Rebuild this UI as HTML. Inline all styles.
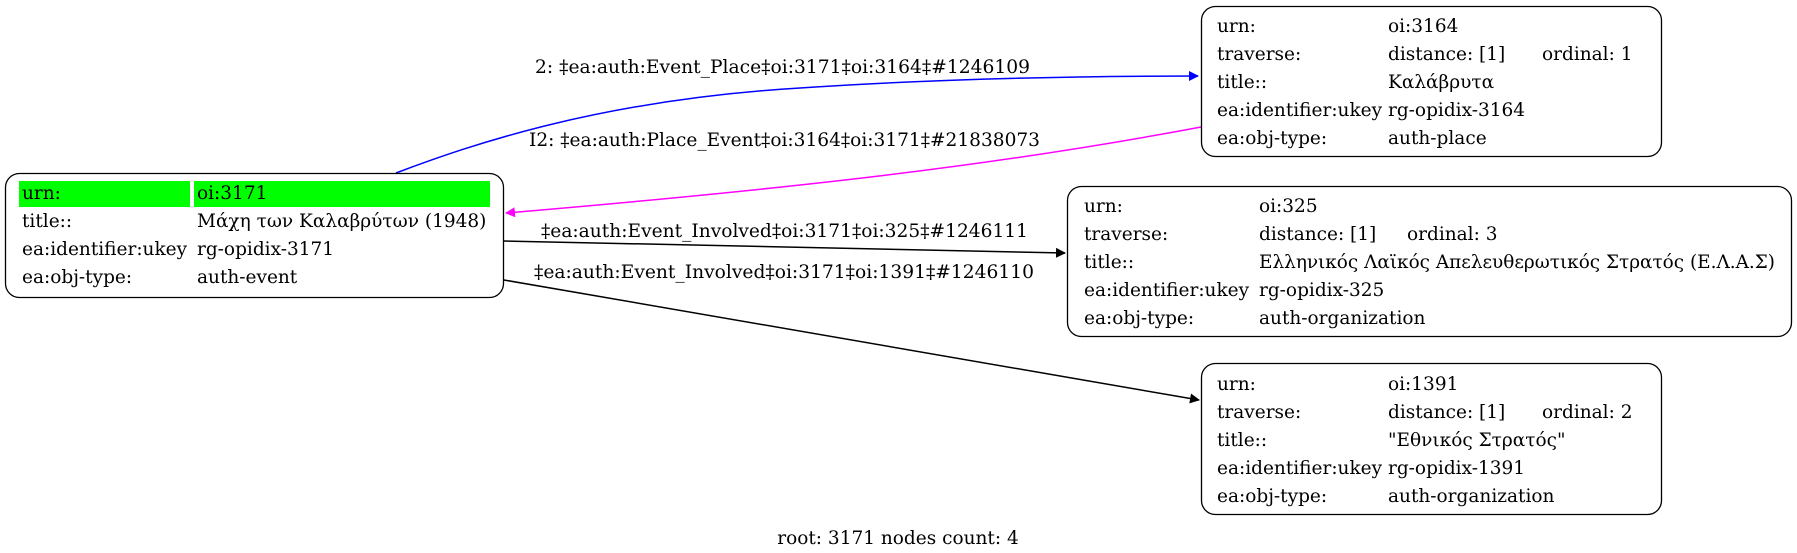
<!DOCTYPE html>
<html><head><meta charset="utf-8"><style>
html,body{margin:0;padding:0;background:#fff;}
svg{display:block;}
text{font-family:"DejaVu Serif","Liberation Serif",serif;font-size:18.5px;fill:#000;}
</style></head><body>
<svg width="1797" height="553" viewBox="0 0 1797 553" xmlns="http://www.w3.org/2000/svg">
<defs>
<marker id="ab" markerWidth="10" markerHeight="10" refX="9" refY="5" orient="auto" markerUnits="userSpaceOnUse"><path d="M0,0 L10,5 L0,10 z" fill="#0000ff"/></marker>
<marker id="am" markerWidth="10" markerHeight="10" refX="9" refY="5" orient="auto" markerUnits="userSpaceOnUse"><path d="M0,0 L10,5 L0,10 z" fill="#ff00ff"/></marker>
<marker id="ak" markerWidth="10" markerHeight="10" refX="9" refY="5" orient="auto" markerUnits="userSpaceOnUse"><path d="M0,0 L10,5 L0,10 z" fill="#000"/></marker>
</defs>

<!-- edges -->
<path d="M396,173 C470,145 600,100 800,88 C950,78 1100,76 1198,76" fill="none" stroke="#0000ff" stroke-width="1.5" marker-end="url(#ab)"/>
<path d="M1201,127 C1000,165 800,188 506,213" fill="none" stroke="#ff00ff" stroke-width="1.5" marker-end="url(#am)"/>
<path d="M504,241 L1065,253" fill="none" stroke="#000" stroke-width="1.5" marker-end="url(#ak)"/>
<path d="M504,280 L1199,400" fill="none" stroke="#000" stroke-width="1.5" marker-end="url(#ak)"/>

<text x="535" y="73" textLength="495" lengthAdjust="spacingAndGlyphs">2: ‡ea:auth:Event_Place‡oi:3171‡oi:3164‡#1246109</text>
<text x="529" y="146" textLength="511" lengthAdjust="spacingAndGlyphs">I2: ‡ea:auth:Place_Event‡oi:3164‡oi:3171‡#21838073</text>
<text x="541" y="237" textLength="487" lengthAdjust="spacingAndGlyphs">‡ea:auth:Event_Involved‡oi:3171‡oi:325‡#1246111</text>
<text x="534" y="278" textLength="500" lengthAdjust="spacingAndGlyphs">‡ea:auth:Event_Involved‡oi:3171‡oi:1391‡#1246110</text>

<!-- node 3171 -->
<rect x="5.5" y="173.5" width="498" height="124" rx="14" fill="#fff" stroke="#000" stroke-width="1.3"/>
<rect x="19" y="181" width="171" height="26" fill="#00ff00"/>
<rect x="194" y="181" width="296" height="26" fill="#00ff00"/>
<text x="22" y="199">urn:</text><text x="197" y="199">oi:3171</text>
<text x="22" y="227">title::</text><text x="197" y="227">Μάχη των Καλαβρύτων (1948)</text>
<text x="22" y="255">ea:identifier:ukey</text><text x="197" y="255">rg-opidix-3171</text>
<text x="22" y="283">ea:obj-type:</text><text x="197" y="283">auth-event</text>

<!-- node 3164 -->
<rect x="1201.5" y="6.5" width="460" height="150" rx="14" fill="#fff" stroke="#000" stroke-width="1.3"/>
<text x="1217" y="32">urn:</text><text x="1388" y="32">oi:3164</text>
<text x="1217" y="60">traverse:</text><text x="1388" y="60">distance: [1]</text><text x="1542" y="60">ordinal: 1</text>
<text x="1217" y="88">title::</text><text x="1388" y="88">Καλάβρυτα</text>
<text x="1217" y="116">ea:identifier:ukey</text><text x="1388" y="116">rg-opidix-3164</text>
<text x="1217" y="144">ea:obj-type:</text><text x="1388" y="144">auth-place</text>

<!-- node 325 -->
<rect x="1067.5" y="186.5" width="724" height="150" rx="14" fill="#fff" stroke="#000" stroke-width="1.3"/>
<text x="1084" y="212">urn:</text><text x="1259" y="212">oi:325</text>
<text x="1084" y="240">traverse:</text><text x="1259" y="240">distance: [1]</text><text x="1407" y="240">ordinal: 3</text>
<text x="1084" y="268">title::</text><text x="1259" y="268" textLength="516" lengthAdjust="spacingAndGlyphs">Ελληνικός Λαϊκός Απελευθερωτικός Στρατός (Ε.Λ.Α.Σ)</text>
<text x="1084" y="296">ea:identifier:ukey</text><text x="1259" y="296">rg-opidix-325</text>
<text x="1084" y="324">ea:obj-type:</text><text x="1259" y="324">auth-organization</text>

<!-- node 1391 -->
<rect x="1201.5" y="363.5" width="460" height="151" rx="14" fill="#fff" stroke="#000" stroke-width="1.3"/>
<text x="1217" y="390">urn:</text><text x="1388" y="390">oi:1391</text>
<text x="1217" y="418">traverse:</text><text x="1388" y="418">distance: [1]</text><text x="1542" y="418">ordinal: 2</text>
<text x="1217" y="446">title::</text><text x="1388" y="446">"Εθνικός Στρατός"</text>
<text x="1217" y="474">ea:identifier:ukey</text><text x="1388" y="474">rg-opidix-1391</text>
<text x="1217" y="502">ea:obj-type:</text><text x="1388" y="502">auth-organization</text>

<text x="898" y="544" text-anchor="middle">root: 3171 nodes count: 4</text>
</svg>
</body></html>
